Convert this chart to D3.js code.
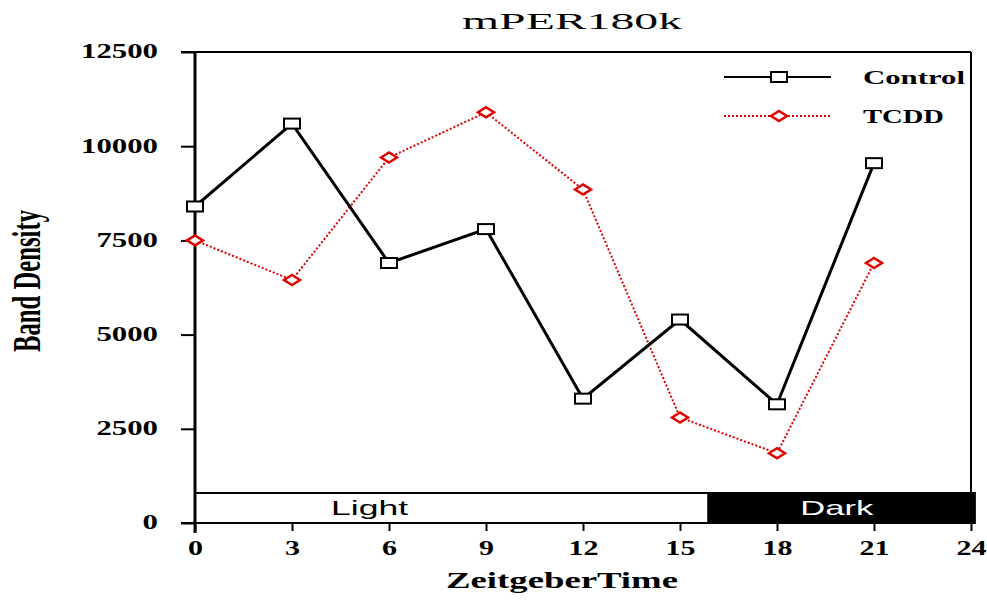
<!DOCTYPE html>
<html>
<head>
<meta charset="utf-8">
<script src="https://cdn.jsdelivr.net/npm/d3@7/dist/d3.min.js"></script>
<style>
  html, body { margin: 0; padding: 0; background: #fff; }
  svg { display: block; }
</style>
</head>
<body>
<svg id="chart" width="987" height="600"></svg>
<script>
// ---- data ----
const zt = [0, 3, 6, 9, 12, 15, 18, 21];
const control = [8400, 10600, 6900, 7800, 3300, 5400, 3150, 9550];
const tcdd = [7500, 6450, 9700, 10900, 8850, 2800, 1850, 6900];
const yTicks = [0, 2500, 5000, 7500, 10000, 12500];
const xTicks = [0, 3, 6, 9, 12, 15, 18, 21, 24];
const phaseLabels = ["Light", "Dark"];
const phaseStart = [0, 15.88];
const phaseEnd = [15.88, 24.12];
const seriesNames = ["Control", "TCDD"];
const titleText = "mPER180k";
const xTitle = "ZeitgeberTime";
const yTitle = "Band Density";

// ---- layout ----
const svg = d3.select("#chart");
const x = d3.scaleLinear().domain([0, 24]).range([195, 971]);
const y = d3.scaleLinear().domain([0, 12500]).range([523, 52]);
const serif = "'Liberation Serif', 'Times New Roman', serif";
const sans = "'Liberation Sans', Arial, sans-serif";
const red = "#e00000";
const digitW = 15.4;

// Title
svg.append("text")
  .attr("x", 572).attr("y", 29)
  .attr("text-anchor", "middle")
  .attr("font-family", serif).attr("font-size", 24)
  .attr("textLength", 220).attr("lengthAdjust", "spacingAndGlyphs")
  .text(titleText);

// Frame: top and right
svg.append("line").attr("x1", 181).attr("x2", x(24)).attr("y1", y(12500)).attr("y2", y(12500))
  .attr("stroke", "#000").attr("stroke-width", 2);
svg.append("line").attr("x1", x(24)).attr("x2", x(24)).attr("y1", y(12500)).attr("y2", y(0))
  .attr("stroke", "#000").attr("stroke-width", 2);

// Light / Dark bar
const barTop = y(0) - 30;
const phases = phaseLabels.map((l, i) => ({label: l, s: phaseStart[i], e: phaseEnd[i]}));
svg.selectAll("rect.phase").data(phases).join("rect")
  .attr("class", "phase")
  .attr("x", d => x(d.s)).attr("y", barTop)
  .attr("width", d => x(d.e) - x(d.s)).attr("height", y(0) - barTop)
  .attr("fill", (d, i) => i === 0 ? "#fff" : "#000")
  .attr("stroke", "#000").attr("stroke-width", 2);
const labelPos = [5.4, 19.85];
const labelLen = [77, 73];
svg.selectAll("text.phase").data(phases).join("text")
  .attr("class", "phase")
  .attr("x", (d, i) => x(labelPos[i])).attr("y", barTop + 22)
  .attr("text-anchor", "middle")
  .attr("font-family", sans).attr("font-size", 21)
  .attr("fill", (d, i) => i === 0 ? "#000" : "#fff")
  .attr("textLength", (d, i) => labelLen[i]).attr("lengthAdjust", "spacingAndGlyphs")
  .text(d => d.label);

// Y axis
const yAxis = svg.append("g")
  .attr("transform", `translate(${x(0)},0)`)
  .call(d3.axisLeft(y).tickValues(yTicks).tickSize(14).tickPadding(23).tickFormat(d3.format("d")));
yAxis.select(".domain").attr("stroke-width", 3).attr("d", `M0,${y(12500)}V${y(0) + 10}`);
yAxis.selectAll(".tick line").attr("stroke-width", 2);
yAxis.selectAll(".tick text")
  .attr("font-family", serif).attr("font-size", 21).attr("font-weight", "bold")
  .attr("fill", "#000").attr("dy", "0.28em")
  .attr("textLength", d => String(d).length * digitW).attr("lengthAdjust", "spacingAndGlyphs");

// X axis
const xAxis = svg.append("g")
  .attr("transform", `translate(0,${y(0)})`)
  .call(d3.axisBottom(x).tickValues(xTicks).tickSize(8).tickPadding(6).tickFormat(d3.format("d")));
xAxis.select(".domain").attr("stroke-width", 2).attr("d", `M${x(0) - 14},0H${x(24)}`);
xAxis.selectAll(".tick line").attr("stroke-width", 2);
xAxis.selectAll(".tick text")
  .attr("font-family", serif).attr("font-size", 21).attr("font-weight", "bold")
  .attr("fill", "#000").attr("dy", "0.85em")
  .attr("textLength", d => String(d).length * 15).attr("lengthAdjust", "spacingAndGlyphs");

// Axis titles
svg.append("text")
  .attr("x", 562).attr("y", 588)
  .attr("text-anchor", "middle")
  .attr("font-family", serif).attr("font-size", 23).attr("font-weight", "bold")
  .attr("textLength", 232).attr("lengthAdjust", "spacingAndGlyphs")
  .text(xTitle);
svg.append("text")
  .attr("transform", "translate(40,281) rotate(-90)")
  .attr("text-anchor", "middle")
  .attr("font-family", serif).attr("font-size", 39).attr("font-weight", "bold")
  .attr("textLength", 142).attr("lengthAdjust", "spacingAndGlyphs")
  .text(yTitle);

// Lines
const line = d3.line().x(d => x(d[0])).y(d => y(d[1]));
const cData = zt.map((t, i) => [t, control[i]]);
const tData = zt.map((t, i) => [t, tcdd[i]]);

svg.append("path").datum(tData).attr("d", line)
  .attr("fill", "none").attr("stroke", red).attr("stroke-width", 2).attr("stroke-dasharray", "2,2");
svg.append("path").datum(cData).attr("d", line)
  .attr("fill", "none").attr("stroke", "#000").attr("stroke-width", 3);

const diamond = (cx, cy) => `M${cx - 8},${cy}L${cx},${cy - 5}L${cx + 8},${cy}L${cx},${cy + 5}Z`;

svg.selectAll("path.tm").data(tData).join("path")
  .attr("class", "tm")
  .attr("d", d => diamond(x(d[0]), y(d[1])))
  .attr("fill", "#fff").attr("stroke", red).attr("stroke-width", 2.5);
svg.selectAll("rect.cm").data(cData).join("rect")
  .attr("class", "cm")
  .attr("x", d => x(d[0]) - 8).attr("y", d => y(d[1]) - 5)
  .attr("width", 16).attr("height", 10)
  .attr("fill", "#fff").attr("stroke", "#000").attr("stroke-width", 2);

// Legend
const legY = [77, 116];
const legLen = [102, 81];
seriesNames.forEach((name, i) => {
  const g = svg.append("g");
  g.append("line").attr("x1", 724).attr("x2", 831).attr("y1", legY[i]).attr("y2", legY[i])
    .attr("stroke", i === 0 ? "#000" : red)
    .attr("stroke-width", 2)
    .attr("stroke-dasharray", i === 0 ? null : "2,2");
  if (i === 0) {
    g.append("rect").attr("x", 771).attr("y", legY[i] - 5).attr("width", 16).attr("height", 10)
      .attr("fill", "#fff").attr("stroke", "#000").attr("stroke-width", 2);
  } else {
    g.append("path").attr("d", diamond(779, legY[i]))
      .attr("fill", "#fff").attr("stroke", red).attr("stroke-width", 2.5);
  }
  g.append("text").attr("x", 863).attr("y", legY[i] + 6.5)
    .attr("font-family", serif).attr("font-size", 19).attr("font-weight", "bold")
    .attr("textLength", legLen[i]).attr("lengthAdjust", "spacingAndGlyphs")
    .text(name);
});
</script>
</body>
</html>
